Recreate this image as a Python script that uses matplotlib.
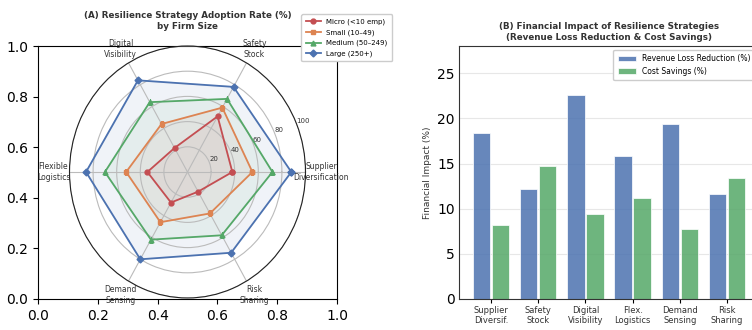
import matplotlib.pyplot as plt
import numpy as np

# radar data (adoption rate %, by firm size)
strategies = ['Supplier\nDiversification', 'Safety\nStock', 'Digital\nVisibility',
              'Flexible\nLogistics', 'Demand\nSensing', 'Risk\nSharing']
micro = [38, 51, 22, 34, 28, 18]
small = [55, 59, 44, 52, 46, 38]
medium = [72, 67, 64, 70, 62, 58]
large = [88, 78, 84, 86, 80, 74]
size_labels = ['Micro (<10 emp)', 'Small (10\u201349)', 'Medium (50\u2013249)', 'Large (250+)']

# bar data
bar_labels = ['Supplier\nDiversif.', 'Safety\nStock', 'Digital\nVisibility',
              'Flex.\nLogistics', 'Demand\nSensing', 'Risk\nSharing']
revenue_loss = [18.4, 12.2, 22.6, 15.8, 19.4, 11.6]
cost_savings = [8.2, 14.7, 9.4, 11.2, 7.8, 13.4]

colors = ['#C44E52', '#DD8452', '#55A868', '#4C72B0']
markers = ['o', 's', '^', 'D']

fig = plt.figure(figsize=(7.52, 3.30), dpi=100)

# leftover cartesian axes behind the radar
ax0 = fig.add_axes([38/752, 31/330, 299/752, 253/330])
ax0.tick_params(labelsize=10, length=3.5)

# radar
axp = fig.add_axes([69.5/752, 32/330, 236/752, 252/330], projection='polar')
axp.set_aspect('auto')
axp.patch.set_alpha(0)
n = len(strategies)
angles = np.linspace(0, 2*np.pi, n, endpoint=False).tolist()
angles_c = angles + angles[:1]
for vals, lab, c, m in zip([micro, small, medium, large], size_labels, colors, markers):
    v = vals + vals[:1]
    axp.plot(angles_c, v, color=c, marker=m, markersize=3.5, linewidth=1.3, label=lab)
    axp.fill(angles_c, v, color=c, alpha=0.08)
axp.set_ylim(0, 100)
axp.set_yticks([20, 40, 60, 80, 100])
axp.set_yticklabels(['20', '40', '60', '80', '100'], fontsize=5, color='#333333')
axp.set_xticks(angles)
axp.set_xticklabels(strategies, fontsize=5.5, color='#333333')
axp.tick_params(axis='x', pad=1)
axp.grid(color='#bbbbbb', linewidth=0.8)
axp.spines['polar'].set_linewidth(0.8)
axp.spines['polar'].set_color('#222222')
axp.set_title('(A) Resilience Strategy Adoption Rate (%)\nby Firm Size',
              fontsize=6.3, fontweight='bold', color='#333333', pad=12, linespacing=1.35)
axp.legend(loc='upper left', bbox_to_anchor=(298/752, 1 - 11/330),
           bbox_transform=fig.transFigure, fontsize=5, framealpha=1,
           edgecolor='#cccccc', handlelength=2.2, borderpad=0.6, labelspacing=0.6)

# bars
ax2 = fig.add_axes([459/752, 31/330, 300/752, 253/330])
x = np.arange(len(bar_labels))
ax2.bar(x - 0.2, revenue_loss, 0.37, color='#4C72B0', alpha=0.85,
        edgecolor='white', linewidth=0.6, label='Revenue Loss Reduction (%)')
ax2.bar(x + 0.2, cost_savings, 0.37, color='#55A868', alpha=0.85,
        edgecolor='white', linewidth=0.6, label='Cost Savings (%)')
ax2.set_xticks(x)
ax2.set_xticklabels(bar_labels, fontsize=6, color='#333333')
ax2.set_ylim(0, max(revenue_loss) * 1.24)
ax2.set_yticks([0, 5, 10, 15, 20, 25])
ax2.tick_params(axis='y', labelsize=10, length=0, pad=3)
ax2.tick_params(axis='x', length=3, pad=2)
ax2.set_ylabel('Financial Impact (%)', fontsize=6.5, color='#333333', labelpad=4)
ax2.yaxis.grid(True, color='#dddddd', linewidth=0.8, alpha=0.7)
ax2.set_axisbelow(True)
for s in ax2.spines.values():
    s.set_color('#333333')
ax2.set_title('(B) Financial Impact of Resilience Strategies\n(Revenue Loss Reduction & Cost Savings)',
              fontsize=6.3, fontweight='bold', color='#333333', pad=4, linespacing=1.35)
ax2.legend(loc='upper right', fontsize=5.5, framealpha=1, edgecolor='#cccccc',
           handlelength=2.4, borderpad=0.6, labelspacing=0.45)

fig.savefig('out.png', dpi=100)
